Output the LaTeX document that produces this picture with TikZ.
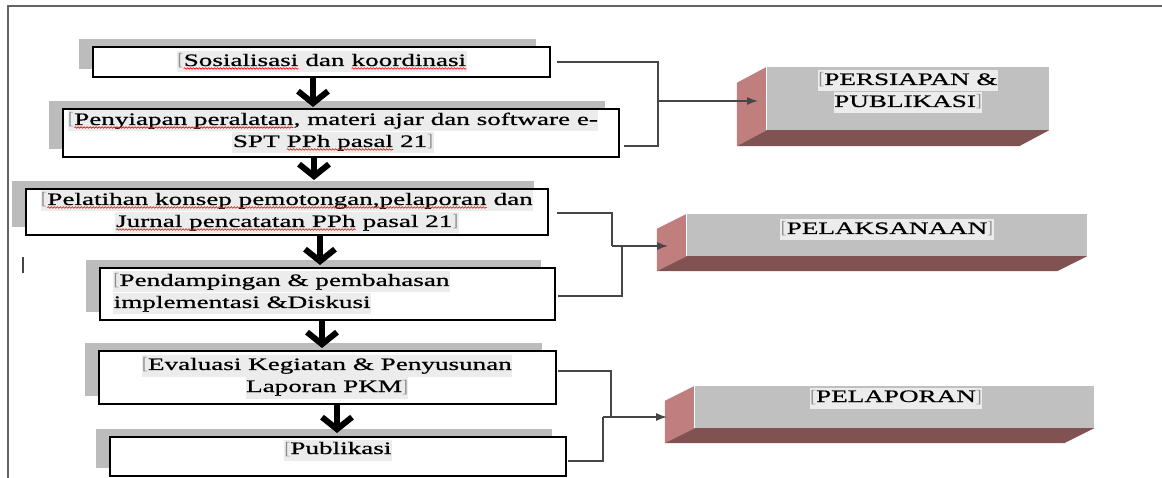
\documentclass[tikz,border=0pt]{standalone}
\usepackage{fontspec}
\setmainfont{Liberation Serif}
\newfontfamily\wfont[FakeStretch=1.55,FakeBold=0.7]{Liberation Serif}
\usetikzlibrary{arrows.meta,shadows,calc,decorations.pathmorphing}
\definecolor{shadowc}{RGB}{188,188,188}
\definecolor{frontc}{RGB}{192,192,192}
\definecolor{sidec}{RGB}{192,126,126}
\definecolor{botc}{RGB}{128,82,82}
\definecolor{hlc}{RGB}{236,236,236}
\definecolor{linec}{RGB}{70,70,70}
\definecolor{markc}{RGB}{140,140,140}
\definecolor{framec}{RGB}{100,100,100}
\newcommand\rw[1]{\tikz[baseline=(wv.base)]{\node[inner sep=0pt,outer sep=0pt,anchor=center](wv){#1};\draw[red,line width=0.6pt,decorate,decoration={snake,amplitude=0.8pt,segment length=3pt}] ([yshift=-2.5pt]wv.base west) -- ([yshift=-2.5pt]wv.base east);}}
\newcommand\hlt[1]{{\setlength{\fboxsep}{0.5pt}\colorbox{hlc}{\strut #1}}}
\newcommand\lb{{\color{markc}\rmfamily[}}
\newcommand\rb{{\color{markc}\rmfamily]}}
\newcommand\boxthree[2]{%
  \fill[sidec] (#1.north west) -- (#1.south west) -- ([shift={(-30,#2)}]#1.south west) -- ([shift={(-30,#2)}]#1.north west) -- cycle;
  \fill[botc] (#1.south west) -- (#1.south east) -- ([shift={(-30,#2)}]#1.south east) -- ([shift={(-30,#2)}]#1.south west) -- cycle;
  \draw[white, line width=1pt] (#1.north west) -- (#1.south west);
}
\begin{document}
\begin{tikzpicture}[x=1pt,y=-1pt,
  lbl/.style={font=\wfont\fontsize{17.5}{20}\selectfont, inner sep=0pt, text=black},
  wbox/.style={draw=black, line width=2pt, fill=white, inner sep=0pt,
    general shadow={fill=shadowc, shadow xshift=-14pt, shadow yshift=8pt}},
  front/.style={fill=frontc, inner sep=0pt, draw=none},
  conn/.style={draw=linec, line width=1.3pt},
  tipconn/.style={conn, -{Latex[length=11pt,width=8pt]}},
  bigarrow/.style={draw=black, line width=6pt, -{Straight Barb[length=12pt,width=30pt]}}
]
\useasboundingbox (0,0) rectangle (1162,478);
\fill[white] (0,0) rectangle (1162,478);
% frame
\draw[framec, line width=1.5pt] (8,478) -- (8,6) -- (1162,6);
\draw[linec, line width=1.5pt] (23,257) -- (23,273);

% white boxes
\node[wbox, line width=1.5pt, minimum width=457pt, minimum height=30pt] (b1) at (321.5,62) {};
\node[wbox, minimum width=556pt, minimum height=48pt] (b2) at (341,133) {};
\node[wbox, minimum width=522pt, minimum height=46pt] (b3) at (287,212) {};
\node[wbox, minimum width=455pt, minimum height=52pt] (b4) at (327.5,294) {};
\node[wbox, minimum width=457pt, minimum height=53pt] (b5) at (327.5,377.5) {};
\node[wbox, minimum width=456pt, minimum height=39pt] (b6) at (338,456.5) {};

% texts
\node[lbl] (b1t) at (322,62) {\hlt{\lb\rw{Sosialisasi} dan \rw{koordinasi}}};
\node[lbl, align=center] (b2t) at (333,132) {\hlt{\lb\rw{Penyiapan peralatan}, materi ajar dan software e-}\\\hlt{SPT \rw{PPh pasal} 21\rb}};
\node[lbl, align=center] (b3t) at (287,212) {\hlt{\lb\rw{Pelatihan konsep pemotongan,pelaporan} dan}\\\hlt{\rw{Jurnal pencatatan PPh} pasal 21\rb}};
\node[lbl, align=left, anchor=west] (b4t) at (113,293) {\hlt{\lb Pendampingan \& pembahasan}\\\hlt{implementasi \&Diskusi}};
\node[lbl, align=center] (b5t) at (327,377) {\hlt{\lb Evaluasi Kegiatan \& Penyusunan}\\\hlt{Laporan PKM\rb}};
\node[lbl] (b6t) at (338,450) {\hlt{\lb Publikasi}};

% big arrows
\coordinate (a1) at (313,107);
\coordinate (a2) at (314,180);
\coordinate (a3) at (320,265);
\coordinate (a4) at (322,348);
\coordinate (a5) at (337,433);
\draw[bigarrow] (b1.south -| a1) -- (a1);
\draw[bigarrow] (b2.south -| a2) -- (a2);
\draw[bigarrow] (b3.south -| a3) -- (a3);
\draw[bigarrow] (b4.south -| a4) -- (a4);
\draw[bigarrow] (b5.south -| a5) -- (a5);

% 3D boxes
\node[front, minimum width=282pt, minimum height=63pt] (p1) at (908,98.5) {};
\node[front, minimum width=400pt, minimum height=42pt] (p2) at (887,235) {};
\node[front, minimum width=399pt, minimum height=42pt] (p3) at (894.5,407) {};
\boxthree{p1}{16}
\boxthree{p2}{15}
\boxthree{p3}{15}
\node[lbl, align=center] (p1t) at (908,92) {\hlt{\lb PERSIAPAN \&}\\\hlt{PUBLIKASI\rb}};
\node[lbl] (p2t) at (887,230) {\hlt{\lb PELAKSANAAN\rb}};
\node[lbl] (p3t) at (896,398) {\hlt{\lb PELAPORAN\rb}};

% connectors group 1
\coordinate (k1) at (658,101);
\coordinate (t1) at (758,101);
\draw[conn] ([xshift=6pt]b1.east) -| (k1);
\draw[conn] ([xshift=4pt,yshift=-13pt]b2.east) -| (k1);
\draw[tipconn] (k1) -- (t1);
% group 2
\coordinate (k2) at (612,246);
\coordinate (k2b) at (622,246);
\coordinate (t2) at (668,246);
\draw[conn] ([xshift=8pt,yshift=-1pt]b3.east) -| (k2);
\draw[conn] ([xshift=2pt,yshift=-2pt]b4.east) -| (k2b);
\draw[tipconn] (k2) -- (t2);
% group 3
\coordinate (k3) at (611,417);
\coordinate (k3b) at (603,417);
\coordinate (t3) at (667,417);
\draw[conn] ([xshift=1pt,yshift=6.5pt]b5.east) -| (k3);
\draw[conn] ([xshift=1pt,yshift=-4.5pt]b6.east) -| (k3b);
\draw[tipconn] (k3b) -- (t3);
\end{tikzpicture}
\end{document}
